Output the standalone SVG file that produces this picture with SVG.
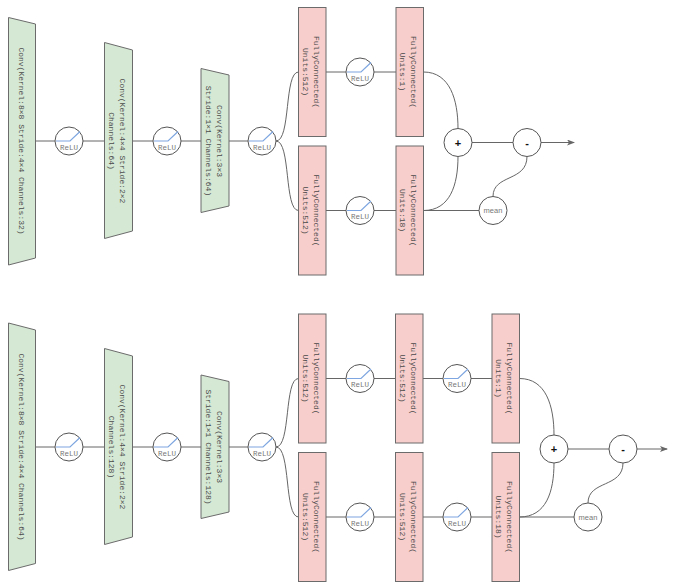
<svg xmlns="http://www.w3.org/2000/svg" width="676" height="588" viewBox="0 0 676 588">
<defs>
<style>
.conv{fill:#d5e8d4;stroke:#6b6b6b;stroke-width:1}
.fc{fill:#f8cecc;stroke:#6b6b6b;stroke-width:1}
.lbl{font-family:"Liberation Mono","DejaVu Sans Mono",monospace;font-size:8px;fill:#4a4a4a;text-anchor:middle}
.circ{fill:#ffffff;stroke:#555555;stroke-width:1}
.act{fill:none;stroke:#7ea6e0;stroke-width:1.2}
.rl{font-family:"Liberation Mono","DejaVu Sans Mono",monospace;font-size:7.5px;fill:#777777;text-anchor:middle}
.op{font-family:"Liberation Sans",Arial,sans-serif;font-size:11px;font-weight:bold;fill:#111111;text-anchor:middle}
.mn{font-family:"Liberation Sans",Arial,sans-serif;font-size:7.5px;fill:#777777;text-anchor:middle}
.edge{fill:none;stroke:#666666;stroke-width:1}
</style>
<marker id="arr" markerWidth="8" markerHeight="6" refX="7" refY="3" orient="auto" markerUnits="userSpaceOnUse">
<path d="M0,0 L8,3 L0,6 L2,3 Z" fill="#666666"/>
</marker>
</defs>
<rect width="676" height="588" fill="#ffffff"/>

<g id="connectors">
<!-- top -->
<path class="edge" d="M35.5,141 H55 M83,141 H104.5 M132.5,141 H153 M181,141 H201 M229,141 H248"/>
<path class="edge" d="M276,141 C291,141 284,72 298.5,72"/>
<path class="edge" d="M276,141 C291,141 284,210.5 298.5,210.5"/>
<path class="edge" d="M326,72 H346 M374,72 H396 M326,210.5 H346 M374,210.5 H396"/>
<path class="edge" d="M423.5,72 C450,72 458,100 458,128.5"/>
<path class="edge" d="M423.5,210.5 C450,210.5 458,185 458,156.5"/>
<path class="edge" d="M423.5,210.5 H479"/>
<path class="edge" d="M472,142.5 H513"/>
<path class="edge" d="M493,196.5 C493,174 527,182 527,156.5"/>
<path class="edge" d="M541,142.5 H574" marker-end="url(#arr)"/>
<!-- bottom -->
<path class="edge" d="M35.5,447 H55 M83,447 H104.5 M132.5,447 H153 M181,447 H201 M229,447 H248"/>
<path class="edge" d="M276,447 C291,447 284,378.5 298.5,378.5"/>
<path class="edge" d="M276,447 C291,447 284,517 298.5,517"/>
<path class="edge" d="M326,378.5 H346 M374,378.5 H395.5 M423,378.5 H443 M471,378.5 H492 M326,517 H346 M374,517 H395.5 M423,517 H443 M471,517 H492"/>
<path class="edge" d="M519.5,378.5 C546,378.5 554,406 554,435"/>
<path class="edge" d="M519.5,517 C546,517 554,492 554,463"/>
<path class="edge" d="M519.5,517 H574"/>
<path class="edge" d="M568,449 H609"/>
<path class="edge" d="M588,503 C588,480 623,488 623,463"/>
<path class="edge" d="M637,449 H667" marker-end="url(#arr)"/>
</g>

<!-- ================= TOP ================= -->
<g id="t-conv1">
<polygon class="conv" points="8.5,17.5 35.5,24 35.5,258 8.5,265"/>
<text class="lbl" transform="translate(22,141) rotate(90)" x="0" y="3">Conv(Kernel:8×8 Stride:4×4 Channels:32)</text>
</g>
<g id="t-relu1">
<circle class="circ" cx="69" cy="141" r="14"/>
<path class="act" d="M56,141 H70 L80,131.5"/>
<text class="rl" x="69" y="149.5">ReLU</text>
</g>
<g id="t-conv2">
<polygon class="conv" points="104.5,42.5 132.5,50 132.5,231 104.5,238.5"/>
<text class="lbl" transform="translate(118.5,141) rotate(90)"><tspan x="0" y="-1">Conv(Kernel:4×4 Stride:2×2</tspan><tspan x="0" y="9.5">Channels:64)</tspan></text>
</g>
<g id="t-relu2">
<circle class="circ" cx="167" cy="141" r="14"/>
<path class="act" d="M154,141 H168 L178,131.5"/>
<text class="rl" x="167" y="149.5">ReLU</text>
</g>
<g id="t-conv3">
<polygon class="conv" points="201,68.5 229,75 229,206 201,212.5"/>
<text class="lbl" transform="translate(215,141) rotate(90)"><tspan x="0" y="-1.5">Conv(Kernel:3×3</tspan><tspan x="0" y="9.5">Stride:1×1 Channels:64)</tspan></text>
</g>
<g id="t-relu3">
<circle class="circ" cx="262" cy="141" r="14"/>
<path class="act" d="M249,141 H263 L273,131.5"/>
<text class="rl" x="262" y="149.5">ReLU</text>
</g>
<g id="t-fc1a">
<rect class="fc" x="298.5" y="7.5" width="27.5" height="129"/>
<text class="lbl" transform="translate(312,72) rotate(90)"><tspan x="0" y="-1.5">FullyConnected(</tspan><tspan x="0" y="9.5">Units:512)</tspan></text>
</g>
<g id="t-fc1b">
<rect class="fc" x="298.5" y="146" width="27.5" height="129"/>
<text class="lbl" transform="translate(312,210.5) rotate(90)"><tspan x="0" y="-1.5">FullyConnected(</tspan><tspan x="0" y="9.5">Units:512)</tspan></text>
</g>
<g id="t-relu4">
<circle class="circ" cx="360" cy="72" r="14"/>
<path class="act" d="M347,72 H361 L371,62.5"/>
<text class="rl" x="360" y="80.5">ReLU</text>
</g>
<g id="t-relu5">
<circle class="circ" cx="360" cy="210.5" r="14"/>
<path class="act" d="M347,210.5 H361 L371,201"/>
<text class="rl" x="360" y="219">ReLU</text>
</g>
<g id="t-fc2a">
<rect class="fc" x="396" y="7.5" width="27.5" height="129"/>
<text class="lbl" transform="translate(409.75,72) rotate(90)"><tspan x="0" y="-1.5">FullyConnected(</tspan><tspan x="0" y="9.5">Units:1)</tspan></text>
</g>
<g id="t-fc2b">
<rect class="fc" x="396" y="146" width="27.5" height="129"/>
<text class="lbl" transform="translate(409.75,210.5) rotate(90)"><tspan x="0" y="-1.5">FullyConnected(</tspan><tspan x="0" y="9.5">Units:18)</tspan></text>
</g>
<g id="t-plus">
<circle class="circ" cx="458" cy="142.5" r="14"/>
<text class="op" x="458" y="146.5">+</text>
</g>
<g id="t-minus">
<circle class="circ" cx="527" cy="142.5" r="14"/>
<text class="op" x="527" y="146.5">-</text>
</g>
<g id="t-mean">
<circle class="circ" cx="493" cy="210.5" r="14"/>
<text class="mn" x="493" y="213">mean</text>
</g>

<!-- ================= BOTTOM ================= -->
<g id="b-conv1">
<polygon class="conv" points="8.5,323 35.5,330 35.5,563.5 8.5,570.5"/>
<text class="lbl" transform="translate(22,447) rotate(90)" x="0" y="3">Conv(Kernel:8×8 Stride:4×4 Channels:64)</text>
</g>
<g id="b-relu1">
<circle class="circ" cx="69" cy="447" r="14"/>
<path class="act" d="M56,447 H70 L80,437.5"/>
<text class="rl" x="69" y="455.5">ReLU</text>
</g>
<g id="b-conv2">
<polygon class="conv" points="104.5,348.5 132.5,356 132.5,537 104.5,544.5"/>
<text class="lbl" transform="translate(118.5,447) rotate(90)"><tspan x="0" y="-1">Conv(Kernel:4×4 Stride:2×2</tspan><tspan x="0" y="9.5">Channels:128)</tspan></text>
</g>
<g id="b-relu2">
<circle class="circ" cx="167" cy="447" r="14"/>
<path class="act" d="M154,447 H168 L178,437.5"/>
<text class="rl" x="167" y="455.5">ReLU</text>
</g>
<g id="b-conv3">
<polygon class="conv" points="201,375 229,381.5 229,512 201,518.5"/>
<text class="lbl" transform="translate(215,447) rotate(90)"><tspan x="0" y="-1.5">Conv(Kernel:3×3</tspan><tspan x="0" y="9.5">Stride:1×1 Channels:128)</tspan></text>
</g>
<g id="b-relu3">
<circle class="circ" cx="262" cy="447" r="14"/>
<path class="act" d="M249,447 H263 L273,437.5"/>
<text class="rl" x="262" y="455.5">ReLU</text>
</g>
<g id="b-fc1a">
<rect class="fc" x="298.5" y="314" width="27.5" height="129"/>
<text class="lbl" transform="translate(312,378.5) rotate(90)"><tspan x="0" y="-1.5">FullyConnected(</tspan><tspan x="0" y="9.5">Units:512)</tspan></text>
</g>
<g id="b-fc1b">
<rect class="fc" x="298.5" y="452.5" width="27.5" height="129"/>
<text class="lbl" transform="translate(312,517) rotate(90)"><tspan x="0" y="-1.5">FullyConnected(</tspan><tspan x="0" y="9.5">Units:512)</tspan></text>
</g>
<g id="b-relu4">
<circle class="circ" cx="360" cy="378.5" r="14"/>
<path class="act" d="M347,378.5 H361 L371,369"/>
<text class="rl" x="360" y="387">ReLU</text>
</g>
<g id="b-relu5">
<circle class="circ" cx="360" cy="517" r="14"/>
<path class="act" d="M347,517 H361 L371,507.5"/>
<text class="rl" x="360" y="525.5">ReLU</text>
</g>
<g id="b-fc2a">
<rect class="fc" x="395.5" y="314" width="27.5" height="129"/>
<text class="lbl" transform="translate(409.25,378.5) rotate(90)"><tspan x="0" y="-1.5">FullyConnected(</tspan><tspan x="0" y="9.5">Units:512)</tspan></text>
</g>
<g id="b-fc2b">
<rect class="fc" x="395.5" y="452.5" width="27.5" height="129"/>
<text class="lbl" transform="translate(409.25,517) rotate(90)"><tspan x="0" y="-1.5">FullyConnected(</tspan><tspan x="0" y="9.5">Units:512)</tspan></text>
</g>
<g id="b-relu6">
<circle class="circ" cx="457" cy="378.5" r="14"/>
<path class="act" d="M444,378.5 H458 L468,369"/>
<text class="rl" x="457" y="387">ReLU</text>
</g>
<g id="b-relu7">
<circle class="circ" cx="457" cy="517" r="14"/>
<path class="act" d="M444,517 H458 L468,507.5"/>
<text class="rl" x="457" y="525.5">ReLU</text>
</g>
<g id="b-fc3a">
<rect class="fc" x="492" y="314" width="27.5" height="129"/>
<text class="lbl" transform="translate(505.75,378.5) rotate(90)"><tspan x="0" y="-1.5">FullyConnected(</tspan><tspan x="0" y="9.5">Units:1)</tspan></text>
</g>
<g id="b-fc3b">
<rect class="fc" x="492" y="452.5" width="27.5" height="129"/>
<text class="lbl" transform="translate(505.75,517) rotate(90)"><tspan x="0" y="-1.5">FullyConnected(</tspan><tspan x="0" y="9.5">Units:18)</tspan></text>
</g>
<g id="b-plus">
<circle class="circ" cx="554" cy="449" r="14"/>
<text class="op" x="554" y="453">+</text>
</g>
<g id="b-minus">
<circle class="circ" cx="623" cy="449" r="14"/>
<text class="op" x="623" y="453">-</text>
</g>
<g id="b-mean">
<circle class="circ" cx="588" cy="517" r="14"/>
<text class="mn" x="588" y="519.5">mean</text>
</g>
</svg>
